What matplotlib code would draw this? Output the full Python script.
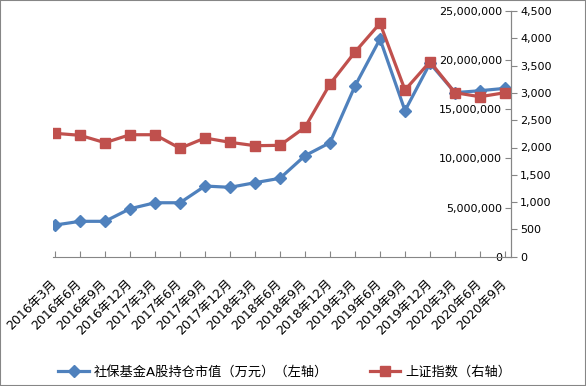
import matplotlib
matplotlib.use('Agg')
import matplotlib.pyplot as plt
from matplotlib.patches import Rectangle
from matplotlib.ticker import FuncFormatter, MultipleLocator
from matplotlib.transforms import ScaledTranslation

plt.rcParams['font.family'] = ['DejaVu Sans', 'Noto Sans CJK SC']

quarters = ['2016年3月', '2016年6月', '2016年9月', '2016年12月',
            '2017年3月', '2017年6月', '2017年9月', '2017年12月',
            '2018年3月', '2018年6月', '2018年9月', '2018年12月',
            '2019年3月', '2019年6月', '2019年9月', '2019年12月',
            '2020年3月', '2020年6月', '2020年9月']

# 社保基金A股持仓市值（万元）
fund_value = [3220000, 3600000, 3600000, 4880000, 5490000, 5490000,
              7190000, 7060000, 7530000, 7980000, 10280000, 11600000,
              17370000, 22150000, 14860000, 19680000, 16690000, 16890000,
              17130000]

# 上证指数
sh_index = [2260, 2223, 2088, 2234, 2234, 1985, 2174, 2095, 2033, 2040,
            2370, 3163, 3749, 4275, 3053, 3572, 3004, 2930, 3004]

blue = '#4F81BD'
red = '#C0504D'
gray = '#868686'

fig = plt.figure(figsize=(5.86, 3.86), dpi=100)
ax = fig.add_axes([53 / 586, 1 - 256.7 / 386, (511 - 53) / 586, 245.7 / 386])
ax2 = ax.twinx()

x = list(range(len(quarters)))

l1, = ax.plot(x, fund_value, color=blue, lw=2.3, marker='D', markersize=6.5,
              label='社保基金A股持仓市值（万元）（左轴）')
l2, = ax2.plot(x, sh_index, color=red, lw=2.3, marker='s', markersize=7.5,
               label='上证指数（右轴）')

ax.set_xlim(-0.08, 18.24)
ax.set_ylim(0, 25000000)
ax2.set_ylim(0, 4500)

ax.yaxis.set_major_locator(MultipleLocator(5000000))
ax2.yaxis.set_major_locator(MultipleLocator(500))
fmt = FuncFormatter(lambda v, p: '{:,.0f}'.format(v))
ax.yaxis.set_major_formatter(fmt)
ax2.yaxis.set_major_formatter(fmt)

# primary axis drawn on the right, sharing the spine with the secondary one
ax.spines['left'].set_position(('axes', 1.0))
ax.spines['left'].set_color(gray)
ax.spines['bottom'].set_color(gray)
for s in ['top', 'right']:
    ax.spines[s].set_visible(False)
for s in ['top', 'left', 'bottom']:
    ax2.spines[s].set_visible(False)
ax2.spines['right'].set_color(gray)

ax.set_xticks(x)
ax.set_xticklabels(quarters, rotation=45, ha='right', va='center',
                   rotation_mode='anchor', fontsize=9)
shift = ScaledTranslation(5 / 100, 0, fig.dpi_scale_trans)
for lab in ax.get_xticklabels():
    lab.set_transform(lab.get_transform() + shift)
ax.tick_params(axis='x', direction='in', length=4.5, color=gray, pad=18)
ax.tick_params(axis='y', direction='out', length=4.5, color=gray, labelsize=8, pad=2)
ax2.tick_params(axis='y', direction='out', length=4.5, color=gray, labelsize=8, pad=2)

fig.legend(handles=[l1, l2], loc='center', bbox_to_anchor=(0.4865, 1 - 372 / 386),
           ncol=2, frameon=False, fontsize=9.5, handlelength=2.3,
           columnspacing=3.15, handletextpad=0.4)

fig.patches.append(Rectangle((0, 0), 1, 1, transform=fig.transFigure,
                             fill=False, edgecolor=gray, lw=1.5))

fig.savefig('out.png', dpi=100)
